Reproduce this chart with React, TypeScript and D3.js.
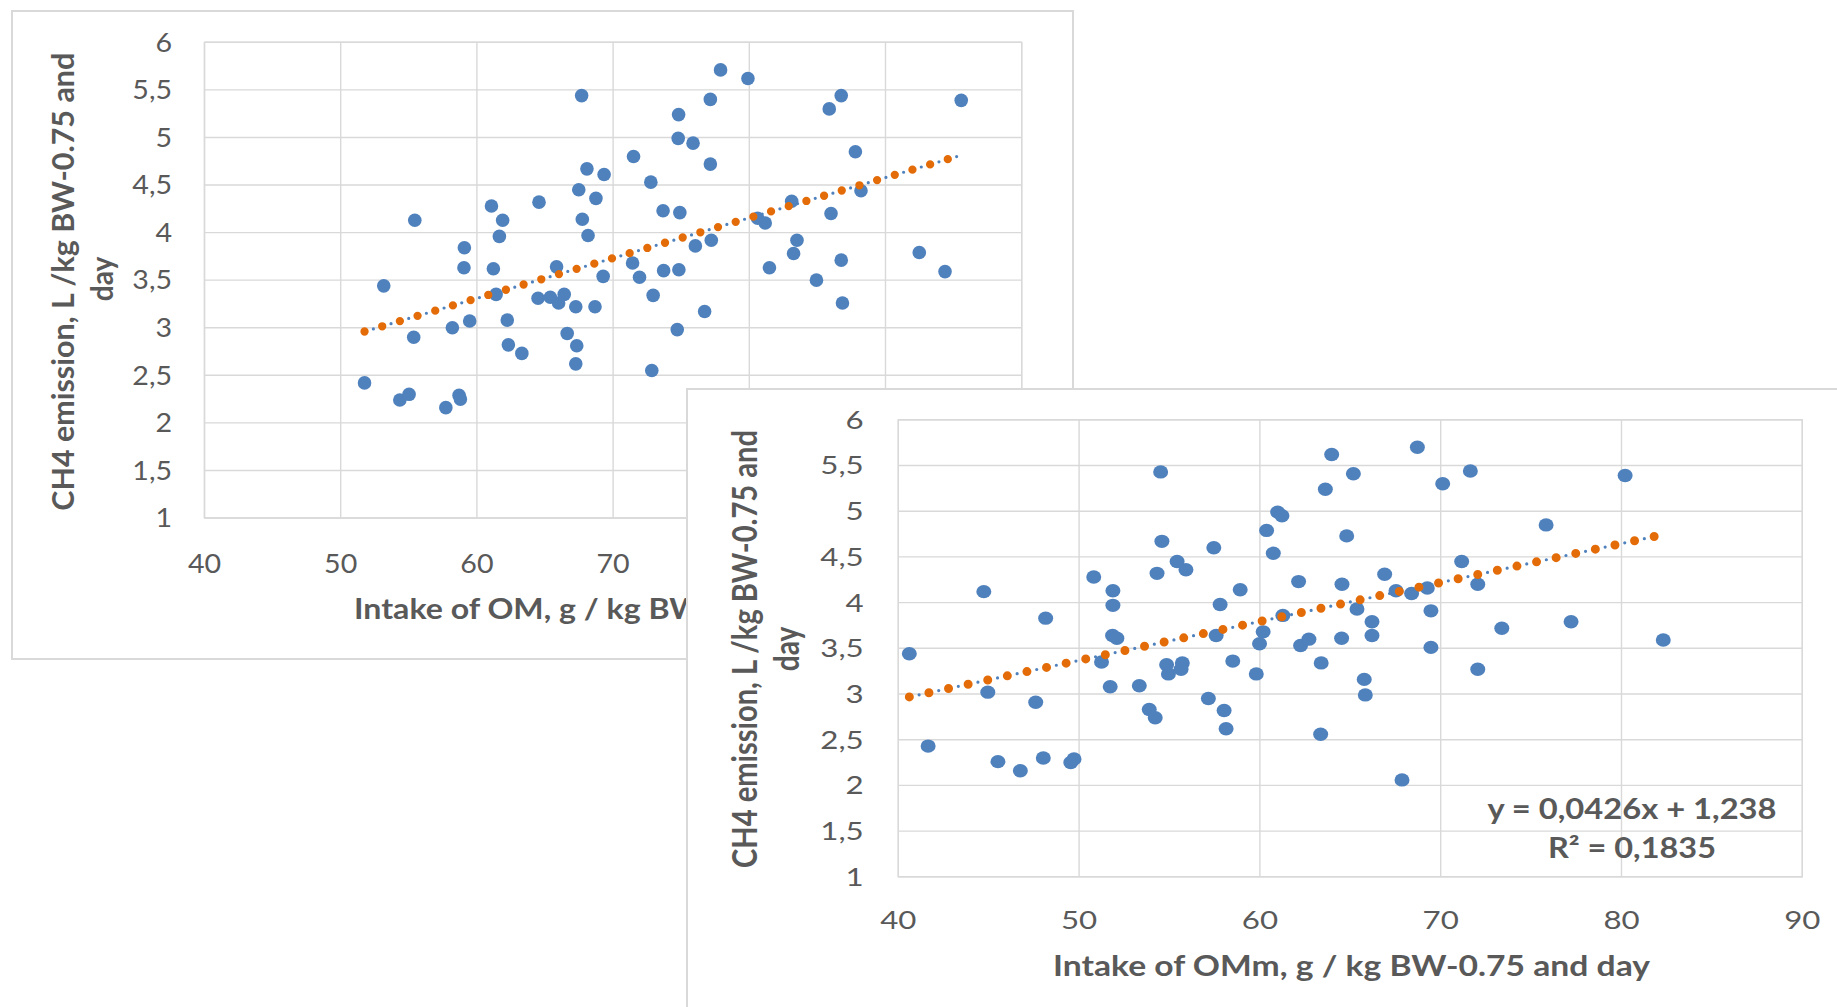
import React, { useEffect } from "react";
import * as d3 from "d3";

// ---------- Data ----------
// Chart 1: Intake of OM
const omX = [
  51.75, 53.16, 54.34, 55.02, 55.44, 55.36, 57.72, 58.69, 58.79, 58.2, 59.08, 59.05, 59.47,
  61.07, 61.89, 61.65, 61.21, 61.41, 62.23, 62.31, 63.3, 64.56, 64.49, 65.39, 65.85, 66.41,
  66.0, 66.63, 67.26, 67.33, 67.26, 67.69, 68.08, 67.48, 67.74, 68.16, 69.34, 68.74, 68.67,
  69.27, 71.5, 72.77, 73.67, 71.43, 71.94, 72.94, 73.71, 72.84, 74.9, 74.83, 74.71, 77.89,
  79.9, 77.14, 74.81, 74.78, 75.87, 77.14, 76.04, 77.21, 76.72, 80.61, 81.17, 83.11, 81.48,
  83.5, 83.25, 84.93, 86.0, 85.87, 86.75, 87.79, 88.2, 86.75, 86.84, 92.48, 94.37, 95.56,
];
const omY = [
  2.42, 3.44, 2.24, 2.3, 4.13, 2.9, 2.16, 2.29, 2.25, 3.0, 3.84, 3.63, 3.07,
  4.28, 4.13, 3.96, 3.62, 3.35, 3.08, 2.82, 2.73, 4.32, 3.31, 3.32, 3.64, 3.35,
  3.26, 2.94, 3.22, 2.81, 2.62, 5.44, 4.67, 4.45, 4.14, 3.97, 4.61, 4.36, 3.22,
  3.54, 4.8, 4.53, 4.23, 3.68, 3.53, 3.34, 3.6, 2.55, 4.21, 3.61, 2.98, 5.71,
  5.62, 5.4, 5.24, 4.99, 4.94, 4.72, 3.86, 3.92, 3.17, 4.15, 4.1, 4.33, 3.63,
  3.92, 3.78, 3.5, 4.2, 5.3, 5.44, 4.85, 4.44, 3.71, 3.26, 3.79, 3.59, 5.39,
];

// Chart 2: Intake of OMm
const ommX = [
  40.61, 41.65, 44.73, 44.95, 45.51, 46.75, 47.6, 48.02, 48.15, 49.54, 49.72, 50.81, 51.87,
  51.87, 51.85, 52.09, 51.24, 51.72, 53.33, 53.88, 54.21, 54.51, 54.58, 54.31, 55.42, 55.91,
  54.84, 54.94, 55.71, 55.64, 57.45, 57.8, 58.91, 57.58, 58.5, 57.15, 58.02, 58.13, 59.8,
  59.98, 60.18, 60.37, 60.74, 60.98, 61.22, 61.27, 62.14, 62.25, 62.71, 63.39, 63.36, 63.97,
  63.62, 65.17, 64.8, 64.54, 64.52, 65.37, 66.2, 66.2, 65.77, 65.83, 66.9, 67.53, 68.39,
  69.26, 69.46, 69.46, 67.86, 68.71, 70.11, 71.64, 71.16, 72.05, 72.05, 73.38, 75.83, 77.21,
  80.2, 82.31,
];
const ommY = [
  3.44, 2.43, 4.12, 3.02, 2.26, 2.16, 2.91, 2.3, 3.83, 2.25, 2.29, 4.28, 4.13,
  3.97, 3.64, 3.61, 3.35, 3.08, 3.09, 2.83, 2.74, 5.43, 4.67, 4.32, 4.45, 4.36,
  3.32, 3.22, 3.34, 3.27, 4.6, 3.98, 4.14, 3.64, 3.36, 2.95, 2.82, 2.62, 3.22,
  3.55, 3.68, 4.79, 4.54, 4.99, 4.95, 3.86, 4.23, 3.53, 3.6, 3.34, 2.56, 5.62,
  5.24, 5.41, 4.73, 4.2, 3.61, 3.93, 3.79, 3.64, 3.16, 2.99, 4.31, 4.13, 4.1,
  4.16, 3.91, 3.51, 2.06, 5.7, 5.3, 5.44, 4.45, 4.2, 3.27, 3.72, 4.85, 3.79,
  5.39, 3.59,
];

const yTicks = [1, 1.5, 2, 2.5, 3, 3.5, 4, 4.5, 5, 5.5, 6];
const xTicksOM = [40, 50, 60, 70, 80, 90, 100];
const xTicksOMm = [40, 50, 60, 70, 80, 90];

// Linear trend lines (slope, intercept)
const trendOM = [0.0423, 0.771];
const trendOMm = [0.0426, 1.238];

const xTitleOM = "Intake of OM, g / kg BW-0.75 and day";
const xTitleOMm = "Intake of OMm, g / kg BW-0.75 and day";
const yTitleLines = ["CH4 emission, L /kg BW-0.75 and", "day"];
const equationLines = ["y = 0,0426x + 1,238", "R\u00B2 = 0,1835"];

// ---------- Styles ----------
const FONT = "Lato, 'Open Sans', sans-serif";
const TEXT = "#595959";
const GRID = "#D9D9D9";
const BLUE = "#4F81BD";
const ORANGE = "#E36C09";

const fmt = (v: number) => String(v).replace(".", ",");

type Cfg = {
  panel: { x: number; y: number; w: number; h: number };
  plot: { x0: number; x1: number; y0: number; y1: number };
  xDomain: [number, number];
  xTicks: number[];
  xs: number[];
  ys: number[];
  trend: number[];
  sx: number;
  tickFont: number;
  yLabelRight: number;
  xLabelBaseline: number;
  xTitle: { text: string; x: number; anchor: string; baseline: number; length: number };
  yTitle: { x: number; cy: number; len?: number }[];
  rx: number;
  ry: number;
  dotGap: number;
  dotW: number;
  equation?: { cx: number; lines: { baseline: number; len: number }[] };
};

function Chart({ c }: { c: Cfg }) {
  const x = d3.scaleLinear().domain(c.xDomain).range([c.plot.x0, c.plot.x1]);
  const y = d3.scaleLinear().domain([1, 6]).range([c.plot.y1, c.plot.y0]);
  const [slope, intercept] = c.trend;
  const xMin = d3.min(c.xs) as number;
  const xMax = d3.max(c.xs) as number;
  const trendPts: [number, number][] = [
    [xMin, slope * xMin + intercept],
    [xMax, slope * xMax + intercept],
  ];
  const line = d3
    .line<[number, number]>()
    .x((d) => x(d[0]))
    .y((d) => y(d[1]));
  const tp = line(trendPts) || "";
  const titleFont = 28;
  return (
    <g>
      <rect
        x={c.panel.x}
        y={c.panel.y}
        width={c.panel.w}
        height={c.panel.h}
        fill="#fff"
        stroke={GRID}
        strokeWidth={2}
      />
      {/* gridlines */}
      {yTicks.map((t) => (
        <line key={"gy" + t} x1={c.plot.x0} x2={c.plot.x1} y1={y(t)} y2={y(t)} stroke={GRID} strokeWidth={1.4} />
      ))}
      {c.xTicks.map((t) => (
        <line key={"gx" + t} x1={x(t)} x2={x(t)} y1={c.plot.y0} y2={c.plot.y1} stroke={GRID} strokeWidth={1.4} />
      ))}
      <rect
        x={c.plot.x0}
        y={c.plot.y0}
        width={c.plot.x1 - c.plot.x0}
        height={c.plot.y1 - c.plot.y0}
        fill="none"
        stroke={GRID}
        strokeWidth={1.4}
      />
      {/* tick labels */}
      {yTicks.map((t) => (
        <text
          key={"ty" + t}
          transform={`translate(${c.yLabelRight},${y(t) + 0.358 * c.tickFont}) scale(${c.sx},1)`}
          textAnchor="end"
          fontFamily={FONT}
          fontSize={c.tickFont}
          fill={TEXT}
        >
          {fmt(t)}
        </text>
      ))}
      {c.xTicks.map((t) => (
        <text
          key={"tx" + t}
          transform={`translate(${x(t)},${c.xLabelBaseline}) scale(${c.sx},1)`}
          textAnchor="middle"
          fontFamily={FONT}
          fontSize={c.tickFont}
          fill={TEXT}
        >
          {fmt(t)}
        </text>
      ))}
      {/* axis titles */}
      <text
        x={c.xTitle.x}
        y={c.xTitle.baseline}
        textAnchor={c.xTitle.anchor as any}
        fontFamily={FONT}
        fontWeight="bold"
        fontSize={titleFont}
        fill={TEXT}
        textLength={c.xTitle.length}
        lengthAdjust="spacingAndGlyphs"
      >
        {c.xTitle.text}
      </text>
      {yTitleLines.map((s, i) => (
        <text
          key={"yt" + i}
          transform={`translate(${c.yTitle[i].x},${c.yTitle[i].cy}) scale(${c.sx},1) rotate(-90)`}
          textAnchor="middle"
          fontFamily={FONT}
          fontWeight="bold"
          fontSize={titleFont}
          fill={TEXT}
          textLength={c.yTitle[i].len}
          lengthAdjust={c.yTitle[i].len ? "spacingAndGlyphs" : undefined}
        >
          {s}
        </text>
      ))}
      {/* points */}
      {c.xs.map((v, i) => (
        <ellipse key={"p" + i} cx={x(v)} cy={y(c.ys[i])} rx={c.rx} ry={c.ry} fill={BLUE} />
      ))}
      {/* trend line */}
      <path
        d={tp}
        fill="none"
        stroke={BLUE}
        strokeWidth={3.2}
        strokeLinecap="round"
        strokeDasharray={`0 ${c.dotGap / 2}`}
      />
      <path
        d={tp}
        fill="none"
        stroke={ORANGE}
        strokeWidth={c.dotW}
        strokeLinecap="round"
        strokeDasharray={`0 ${c.dotGap}`}
      />
      {c.equation &&
        equationLines.map((s, i) => (
          <text
            key={"eq" + i}
            x={c.equation!.cx}
            y={c.equation!.lines[i].baseline}
            textAnchor="middle"
            fontFamily={FONT}
            fontWeight="bold"
            fontSize={titleFont}
            fill={TEXT}
            textLength={c.equation!.lines[i].len}
            lengthAdjust="spacingAndGlyphs"
          >
            {s}
          </text>
        ))}
    </g>
  );
}

const chart1: Cfg = {
  panel: { x: 12, y: 11, w: 1061, h: 648 },
  plot: { x0: 204.5, x1: 1021.7, y0: 42.3, y1: 518 },
  xDomain: [40, 100],
  xTicks: xTicksOM,
  xs: omX,
  ys: omY,
  trend: trendOM,
  sx: 1.1,
  tickFont: 26,
  yLabelRight: 172,
  xLabelBaseline: 572.6,
  xTitle: { text: xTitleOM, x: 354, anchor: "start", baseline: 619, length: 543 },
  yTitle: [
    { x: 74, cy: 281.7, len: 458 },
    { x: 112.7, cy: 279 },
  ],
  rx: 6.8,
  ry: 6.8,
  dotGap: 18.43,
  dotW: 8.3,
};

const chart2: Cfg = {
  panel: { x: 687, y: 389, w: 1170, h: 640 },
  plot: { x0: 898.3, x1: 1802.3, y0: 419.8, y1: 876.8 },
  xDomain: [40, 90],
  xTicks: xTicksOMm,
  xs: ommX,
  ys: ommY,
  trend: trendOMm,
  sx: 1.25,
  tickFont: 25,
  yLabelRight: 863.7,
  xLabelBaseline: 929,
  xTitle: { text: xTitleOMm, x: 1351.5, anchor: "middle", baseline: 975.7, length: 597 },
  yTitle: [
    { x: 756.5, cy: 649, len: 438 },
    { x: 798.5, cy: 649 },
  ],
  rx: 7.5,
  ry: 6.7,
  dotGap: 20.05,
  dotW: 9,
  equation: {
    cx: 1632,
    lines: [
      { baseline: 819, len: 289 },
      { baseline: 858, len: 168 },
    ],
  },
};

export default function App() {
  useEffect(() => {
    document.body.style.margin = "0";
    document.body.style.overflow = "hidden";
  }, []);
  return (
    <svg
      width={1837}
      height={1007}
      style={{ position: "absolute", left: 0, top: 0, display: "block", background: "#fff" }}
    >
      <rect x={0} y={0} width={1837} height={1007} fill="#fff" />
      <Chart c={chart1} />
      <Chart c={chart2} />
    </svg>
  );
}
